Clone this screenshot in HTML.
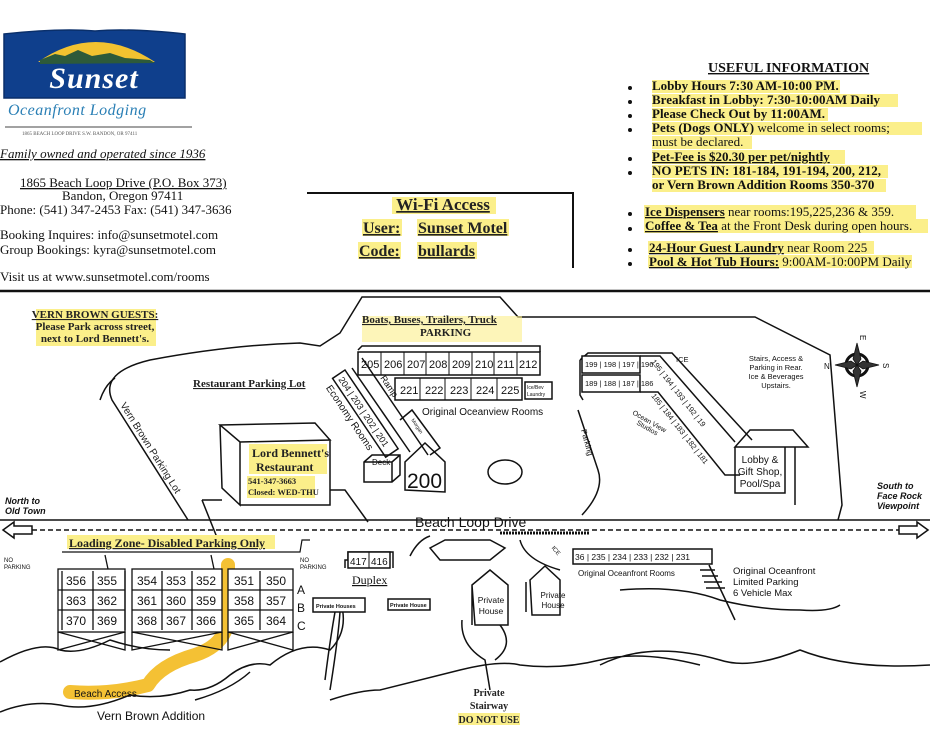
<!DOCTYPE html>
<html><head><meta charset="utf-8"><style>
html,body{margin:0;padding:0;background:#fff;width:930px;height:752px;overflow:hidden}
svg{display:block}
.s{font-family:"Liberation Serif",serif}
.a{font-family:"Liberation Sans",sans-serif}
.b{font-weight:bold}
</style></head><body>
<svg width="930" height="752" viewBox="0 0 930 752" xmlns="http://www.w3.org/2000/svg" fill="none" stroke="#111" stroke-width="1.5">
<!-- Logo -->
<path d="M4 34 Q60 28 95 31 Q130 28 185 34 L185 98 L4 98 Z" fill="#0f3f8c" stroke="#0a2f6a"/>
<path d="M38 62 Q95 22 155 62 Z" fill="#f2c230" stroke="none"/>
<path d="M40 60 L55 54 L65 56 L78 50 L92 56 L110 53 L125 58 L150 60 L155 63 L40 64Z" fill="#2d5a3a" stroke="none"/>
<text x="94" y="88" text-anchor="middle" class="s b" font-style="italic" font-size="30" fill="#fff" stroke="none" letter-spacing="1">Sunset</text>
<text x="8" y="115" class="s" font-style="italic" font-size="16" fill="#2a7fb5" stroke="none" letter-spacing="0.5">Oceanfront Lodging</text>
<line x1="5" y1="127" x2="192" y2="127" stroke="#444" stroke-width="1"/>
<text x="22" y="135" class="s" font-size="5" fill="#555" stroke="none">1865 BEACH LOOP DRIVE S.W.   BANDON, OR 97411</text>
<g class="s" font-size="13" fill="#111" stroke="none">
<text x="0" y="158" font-style="italic" text-decoration="underline">Family owned and operated since 1936</text>
<text x="20" y="187" text-decoration="underline">1865 Beach Loop Drive (P.O. Box 373)</text>
<text x="62" y="200">Bandon, Oregon 97411</text>
<text x="0" y="214">Phone:  (541) 347-2453   Fax:  (541) 347-3636</text>
<text x="0" y="239">Booking Inquires:  info@sunsetmotel.com</text>
<text x="0" y="254">Group Bookings:    kyra@sunsetmotel.com</text>
<text x="0" y="281">Visit us at www.sunsetmotel.com/rooms</text>
</g>
<!-- WiFi -->
<path d="M307 193 L573 193 L573 268" stroke-width="2"/>
<g fill="#fbef8a" stroke="none">
<rect x="392" y="197" width="104" height="17"/><rect x="362" y="219" width="40" height="17"/><rect x="417" y="219" width="92" height="17"/>
<rect x="358" y="242" width="43" height="17"/><rect x="417" y="242" width="60" height="17"/>
</g>
<g class="s b" fill="#222" stroke="none" font-size="16" text-decoration="underline">
<text x="443" y="210" text-anchor="middle" font-size="17">Wi-Fi Access</text>
<text x="363" y="233">User:</text><text x="418" y="233">Sunset Motel</text>
<text x="359" y="256">Code:</text><text x="418" y="256">bullards</text>
</g>
<!-- Useful info -->
<g fill="#fbef8a" stroke="none">
<rect x="652" y="80" width="188" height="13"/><rect x="652" y="94" width="246" height="13"/><rect x="652" y="108" width="176" height="13"/>
<rect x="652" y="122" width="270" height="13"/><rect x="652" y="136" width="100" height="13"/><rect x="652" y="150" width="193" height="14"/>
<rect x="652" y="165" width="236" height="13"/><rect x="652" y="179" width="234" height="13"/>
<rect x="644" y="205" width="272" height="14"/><rect x="644" y="219" width="284" height="14"/>
<rect x="648" y="241" width="226" height="13"/><rect x="648" y="255" width="264" height="13"/>
</g>
<g class="s" fill="#111" stroke="none" font-size="13">
<text x="708" y="72" class="b" font-size="14" text-decoration="underline">USEFUL INFORMATION</text>
<text x="652" y="90" class="b">Lobby Hours 7:30 AM-10:00 PM.</text>
<text x="652" y="104" class="b">Breakfast in Lobby: 7:30-10:00AM Daily</text>
<text x="652" y="118" class="b">Please Check Out by 11:00AM.</text>
<text x="652" y="132"><tspan class="b">Pets (Dogs ONLY)</tspan> welcome in select rooms;</text>
<text x="652" y="146">must be declared.</text>
<text x="652" y="161" class="b" text-decoration="underline">Pet-Fee is $20.30 per pet/nightly</text>
<text x="652" y="175" class="b">NO PETS IN: 181-184, 191-194, 200, 212,</text>
<text x="652" y="189" class="b">or Vern Brown Addition Rooms 350-370</text>
<text x="645" y="216"><tspan class="b" text-decoration="underline">Ice Dispensers</tspan> near rooms:195,225,236  &amp; 359.</text>
<text x="645" y="230"><tspan class="b" text-decoration="underline">Coffee &amp; Tea</tspan> at the Front Desk during open hours.</text>
<text x="649" y="252"><tspan class="b" text-decoration="underline">24-Hour Guest Laundry</tspan> near Room 225</text>
<text x="649" y="266"><tspan class="b" text-decoration="underline">Pool &amp; Hot Tub Hours:</tspan> 9:00AM-10:00PM Daily</text>
</g>
<g fill="#111" stroke="none">
<circle cx="630" cy="88" r="2"/><circle cx="630" cy="102" r="2"/><circle cx="630" cy="116" r="2"/><circle cx="630" cy="130" r="2"/>
<circle cx="630" cy="159" r="2"/><circle cx="630" cy="173" r="2"/><circle cx="630" cy="214" r="2"/><circle cx="630" cy="229" r="2"/>
<circle cx="630" cy="250" r="2"/><circle cx="630" cy="264" r="2"/>
</g>
<!-- map top border -->
<line x1="0" y1="291" x2="930" y2="291" stroke-width="2.5"/>
<!-- Vern brown guests -->
<rect x="36" y="309" width="120" height="37" fill="#fbef8a" stroke="none"/>
<g class="s b" fill="#222" stroke="none" font-size="11" text-anchor="middle">
<text x="95" y="318" text-decoration="underline">VERN BROWN GUESTS:</text>
<text x="95" y="330">Please Park across street,</text>
<text x="95" y="342">next to Lord Bennett's.</text>
</g>
<!-- parking outlines -->
<path d="M188 520 L112 400 Q100 372 150 360 Q230 345 300 343 L320 346 L340 333 L362 297 L500 297 L518 317 L755 317 L830 355 L842 505 L838 520"/>
<path d="M100 400 Q105 385 115 378"/>
<text x="193" y="387" class="s b" font-size="11" fill="#222" stroke="none" text-decoration="underline">Restaurant Parking Lot</text>
<text transform="translate(120,405) rotate(58)" class="a" font-size="10" fill="#222" stroke="none">Vern Brown Parking Lot</text>
<rect x="362" y="316" width="160" height="26" fill="#fbef8a" stroke="none" opacity="0.6"/>
<text x="362" y="323" class="s b" font-size="11" fill="#222" stroke="none" text-decoration="underline">Boats, Buses, Trailers, Truck</text>
<text x="420" y="336" class="s b" font-size="11" fill="#222" stroke="none">PARKING</text>
<!-- restaurant -->
<path d="M220 425 L315 423 L330 440 L240 442 Z M220 425 L222 488 L240 505 L240 442 M240 442 L330 440 L330 505 L240 505"/>
<path d="M202 500 L222 500 M202 500 L218 540 M330 490 L345 490 L368 522"/>
<rect x="249" y="444" width="78" height="30" fill="#fbef8a" stroke="none"/>
<rect x="247" y="476" width="68" height="22" fill="#fbef8a" stroke="none"/>
<g class="s b" fill="#222" stroke="none">
<text x="252" y="457" font-size="12">Lord Bennett's</text>
<text x="256" y="471" font-size="12">Restaurant</text>
<text x="248" y="484" font-size="8.5">541-347-3663</text>
<text x="248" y="495" font-size="8.5">Closed: WED-THU</text>
</g>
<!-- 200s building -->
<path d="M358 350 L362 346 L540 346 L540 352"/>
<rect x="358" y="352" width="182" height="23" fill="#fff"/>
<g stroke-width="1">
<line x1="381" y1="352" x2="381" y2="375"/><line x1="404" y1="352" x2="404" y2="375"/><line x1="426" y1="352" x2="426" y2="375"/><line x1="449" y1="352" x2="449" y2="375"/><line x1="472" y1="352" x2="472" y2="375"/><line x1="494" y1="352" x2="494" y2="375"/><line x1="517" y1="352" x2="517" y2="375"/>
</g>
<rect x="395" y="378" width="127" height="22" fill="#fff"/>
<g stroke-width="1"><line x1="420" y1="378" x2="420" y2="400"/><line x1="445" y1="378" x2="445" y2="400"/><line x1="471" y1="378" x2="471" y2="400"/><line x1="497" y1="378" x2="497" y2="400"/></g>
<rect x="525" y="382" width="27" height="17" fill="#fff"/>
<g class="a" font-size="11" fill="#111" stroke="none">
<text x="361" y="368">205</text><text x="384" y="368">206</text><text x="407" y="368">207</text><text x="429" y="368">208</text><text x="452" y="368">209</text><text x="475" y="368">210</text><text x="497" y="368">211</text><text x="519" y="368">212</text>
<text x="400" y="394">221</text><text x="425" y="394">222</text><text x="450" y="394">223</text><text x="476" y="394">224</text><text x="501" y="394">225</text>
<text x="527" y="389" font-size="5">Ice/Bev</text><text x="527" y="396" font-size="5">Laundry</text>
<text x="422" y="415" font-size="10">Original Oceanview Rooms</text>
</g>
<!-- economy diagonal -->
<g transform="translate(345,370) rotate(56)">
<rect x="0" y="0" width="95" height="15" fill="#fff"/>
<text x="4" y="11" class="a" font-size="9" fill="#111" stroke="none">204 | 203 | 202 | 201</text>
<text x="4" y="26" class="a" font-size="10" fill="#111" stroke="none">Economy Rooms</text>
</g>
<path d="M362 358 L428 455 M352 368 L410 452"/>
<text transform="translate(380,378) rotate(56)" class="a" font-size="9" fill="#111" stroke="none">Ramp</text>
<path d="M400 420 L412 410 L440 448 L430 455"/>
<text transform="translate(411,420) rotate(56)" class="a" font-size="5" fill="#111" stroke="none">Morgan</text>
<path d="M405 490 L405 462 L425 443 L445 462 L445 492 Z"/>
<text x="407" y="488" class="a" font-size="21" fill="#111" stroke="none">200</text>
<path d="M364 462 L372 455 L400 455 L400 475 L392 482 L364 482 Z M364 462 L392 462 L400 455 M392 462 L392 482"/>
<text x="372" y="465" class="a" font-size="8" fill="#111" stroke="none">Deck</text>
<ellipse cx="505" cy="472" rx="17" ry="12"/>
<path d="M578 410 L598 470 Q605 490 582 515"/>
<text transform="translate(581,430) rotate(75)" class="a" font-size="8" fill="#111" stroke="none">Parking</text>
<!-- 190s -->
<path d="M580 360 L580 395 L583 400 M580 360 L588 353 L648 353"/>
<rect x="582" y="356" width="58" height="17" fill="#fff"/>
<rect x="582" y="375" width="58" height="17" fill="#fff"/>
<g class="a" font-size="7.5" fill="#111" stroke="none">
<text x="585" y="367">199 | 198 | 197 | 196</text>
<text x="585" y="386">189 | 188 | 187 | 186</text>
<text x="676" y="362">ICE</text>
</g>
<path d="M648 353 L672 353 L752 440 M640 356 L660 356 L735 442 M640 392 L658 392 L725 475 L740 475"/>
<text transform="translate(651,362) rotate(52)" class="a" font-size="7.5" fill="#111" stroke="none">195 | 194 | 193 | 192 | 19</text>
<text transform="translate(651,396) rotate(52)" class="a" font-size="7.5" fill="#111" stroke="none">185 | 184 | 183 | 182 | 181</text>
<text transform="translate(632,414) rotate(30)" class="a" font-size="7" fill="#111" stroke="none">Ocean View</text>
<text transform="translate(636,424) rotate(30)" class="a" font-size="7" fill="#111" stroke="none">Studios</text>
<!-- lobby -->
<path d="M735 447 L750 430 L793 430 L808 447 Z M735 447 L735 493 L785 493 L785 447 M795 447 L795 505"/>
<g class="a" font-size="10" fill="#111" stroke="none" text-anchor="middle">
<text x="760" y="463">Lobby &amp;</text><text x="760" y="475">Gift Shop,</text><text x="760" y="487">Pool/Spa</text>
<text x="776" y="361" font-size="7.5">Stairs, Access &amp;</text><text x="776" y="370" font-size="7.5">Parking in Rear.</text>
<text x="776" y="379" font-size="7.5">Ice &amp; Beverages</text><text x="776" y="388" font-size="7.5">Upstairs.</text>
</g>
<!-- compass -->
<g transform="translate(857,365)">
<circle r="11" stroke-width="3"/>
<path d="M0 -22 L4 -6 L0 0 L-4 -6Z M0 22 L4 6 L0 0 L-4 6Z M-22 0 L-6 4 L0 0 L-6 -4Z M22 0 L6 4 L0 0 L6 -4Z" fill="#333" stroke-width="0.8"/>
<text x="-33" y="4" class="a" font-size="8" fill="#111" stroke="none">N</text>
<text transform="translate(26,-2) rotate(90)" class="a" font-size="8" fill="#111" stroke="none">S</text>
<text transform="translate(3,-30) rotate(90)" class="a" font-size="8" fill="#111" stroke="none">E</text>
<text transform="translate(3,26) rotate(90)" class="a" font-size="8" fill="#111" stroke="none">W</text>
</g>
<text x="877" y="489" class="a b" font-style="italic" font-size="9" fill="#111" stroke="none">South to</text>
<text x="877" y="499" class="a b" font-style="italic" font-size="9" fill="#111" stroke="none">Face Rock</text>
<text x="877" y="509" class="a b" font-style="italic" font-size="9" fill="#111" stroke="none">Viewpoint</text>
<text x="5" y="504" class="a b" font-style="italic" font-size="9" fill="#111" stroke="none">North to</text>
<text x="5" y="514" class="a b" font-style="italic" font-size="9" fill="#111" stroke="none">Old Town</text>
<!-- road -->
<line x1="0" y1="520" x2="930" y2="520" stroke-width="1.5"/>
<line x1="32" y1="530" x2="905" y2="530" stroke-dasharray="5,3" stroke-width="1.5"/>
<path d="M3 530 L14 522 L14 526 L32 526 L32 534 L14 534 L14 538 Z" fill="#fff"/>
<path d="M928 530 L917 522 L917 526 L899 526 L899 534 L917 534 L917 538 Z" fill="#fff"/>
<text x="415" y="527" class="a" font-size="14" fill="#111" stroke="none">Beach Loop Drive</text>
<path d="M500 533 L590 533" stroke-width="3" stroke-dasharray="2,1"/>
<!-- loading zone -->
<rect x="67" y="535" width="208" height="14" fill="#fbef8a" stroke="none"/>
<text x="69" y="547" class="s b" font-size="12" fill="#222" stroke="none" text-decoration="underline">Loading Zone- Disabled Parking Only</text>
<path d="M62 552 L300 552 L302 540 L310 540" stroke-width="1.2"/>
<text x="4" y="562" class="a" font-size="6" fill="#111" stroke="none">NO</text><text x="4" y="569" class="a" font-size="6" fill="#111" stroke="none">PARKING</text>
<text x="300" y="562" class="a" font-size="6" fill="#111" stroke="none">NO</text><text x="300" y="569" class="a" font-size="6" fill="#111" stroke="none">PARKING</text>
<!-- highlight beach access -->
<path d="M228 565 L228 620 Q225 645 195 655 Q160 665 148 685 Q110 695 70 692" stroke="#f2b610" stroke-width="14" stroke-linecap="round" stroke-linejoin="round" opacity="0.85"/>
<!-- 350 units -->
<g stroke-width="1.3">
<rect x="58" y="569" width="67" height="63" fill="#fff"/><rect x="132" y="569" width="90" height="63" fill="#fff"/><rect x="228" y="569" width="65" height="63" fill="#fff"/>
<path d="M62 571 L62 630 M125 571 L125 630 M58 590 L125 590 M58 610 L125 610 M93 571 L93 630"/>
<path d="M132 590 L222 590 M132 610 L222 610 M162 571 L162 630 M192 571 L192 630"/>
<path d="M228 590 L293 590 M228 610 L293 610 M260 571 L260 630"/>
<path d="M58 632 L58 650 L125 632 M125 632 L125 650 L58 632 M132 632 L132 650 L222 632 M222 632 L222 650 L132 632 M228 632 L228 650 L293 632 M293 632 L293 650 L228 632"/>
<path d="M105 555 L108 569 M211 555 L214 569"/>
</g>
<g class="a" font-size="12" fill="#111" stroke="none">
<text x="66" y="585">356</text><text x="97" y="585">355</text><text x="137" y="585">354</text><text x="166" y="585">353</text><text x="196" y="585">352</text><text x="234" y="585">351</text><text x="266" y="585">350</text>
<text x="66" y="605">363</text><text x="97" y="605">362</text><text x="137" y="605">361</text><text x="166" y="605">360</text><text x="196" y="605">359</text><text x="234" y="605">358</text><text x="266" y="605">357</text>
<text x="66" y="625">370</text><text x="97" y="625">369</text><text x="137" y="625">368</text><text x="166" y="625">367</text><text x="196" y="625">366</text><text x="234" y="625">365</text><text x="266" y="625">364</text>
<text x="297" y="594">A</text><text x="297" y="612">B</text><text x="297" y="630">C</text>
<text x="74" y="697" font-size="10">Beach Access</text>
<text x="97" y="720" font-size="12">Vern Brown Addition</text>
</g>
<!-- shoreline -->
<path d="M0 662 Q40 640 60 650 Q80 655 110 640 Q140 650 170 650 M0 712 Q30 700 60 705 Q90 712 130 695 Q160 700 190 690 Q210 692 230 675 Q250 660 270 665 Q300 640 330 650 Q350 630 340 600 M195 700 Q230 690 250 672 M330 700 Q360 690 380 690 Q420 680 460 670 Q500 660 520 665 Q560 670 600 660 Q640 650 700 665 M600 665 Q650 640 720 660 Q750 670 800 650 Q850 670 930 665" stroke-width="1.5"/>
<path d="M620 590 Q680 585 720 600 Q760 610 800 610 Q830 612 840 605"/>
<!-- duplex and houses -->
<path d="M345 568 L345 560 L348 560 L348 552 L393 552 L393 568"/>
<rect x="348" y="552" width="42" height="16" fill="#fff"/><line x1="369" y1="552" x2="369" y2="568" stroke-width="1"/>
<text x="350" y="565" class="a" font-size="10" fill="#111" stroke="none">417</text><text x="371" y="565" class="a" font-size="10" fill="#111" stroke="none">416</text>
<text x="352" y="584" class="s" font-size="12" fill="#111" stroke="none" text-decoration="underline">Duplex</text>
<rect x="313" y="598" width="52" height="14" fill="#fff"/><text x="316" y="608" class="a b" font-size="5.5" fill="#111" stroke="none">Private Houses</text>
<rect x="388" y="599" width="42" height="11" fill="#fff"/><text x="390" y="607" class="a b" font-size="5.5" fill="#111" stroke="none">Private House</text>
<path d="M335 612 Q330 640 325 680 M340 612 Q338 640 330 690"/>
<path d="M472 585 L490 570 L508 585 L508 625 L475 625 Z M472 585 L472 625"/>
<text x="491" y="603" class="a" font-size="8.5" fill="#111" stroke="none" text-anchor="middle">Private</text><text x="491" y="614" class="a" font-size="8.5" fill="#111" stroke="none" text-anchor="middle">House</text>
<path d="M530 580 L545 566 L560 580 L560 615 L532 615 Z M526 582 L526 612"/>
<text x="553" y="598" class="a" font-size="8" fill="#111" stroke="none" text-anchor="middle">Private</text><text x="553" y="608" class="a" font-size="8" fill="#111" stroke="none" text-anchor="middle">House</text>
<path d="M462 620 Q460 645 485 660 L490 690 M500 625 Q515 645 495 660"/>
<path d="M430 548 L445 540 L490 540 L505 548 L490 560 L440 560 Z" />
<path d="M410 556 Q418 540 430 536 M520 540 Q525 560 560 570"/>
<g class="s b" font-size="10" fill="#222" stroke="none" text-anchor="middle">
<text x="489" y="696">Private</text><text x="489" y="709">Stairway</text>
</g>
<rect x="458" y="713" width="62" height="12" fill="#fbef8a" stroke="none"/>
<text x="489" y="723" class="s b" font-size="10" fill="#222" stroke="none" text-anchor="middle">DO NOT USE</text>
<!-- 230s -->
<rect x="573" y="549" width="139" height="15" fill="#fff"/>
<text x="575" y="560" class="a" font-size="8.5" fill="#111" stroke="none">36 | 235 | 234 | 233 | 232 | 231</text>
<text x="556" y="552" transform="rotate(50 558 545)" class="a" font-size="6" fill="#111" stroke="none">ICE</text>
<text x="578" y="576" class="a" font-size="8" fill="#111" stroke="none">Original Oceanfront Rooms</text>
<path d="M700 570 L715 570 M702 576 L718 576 M704 582 L722 582 M706 588 L725 588 M709 565 L735 620"/>
<g class="a" font-size="9.5" fill="#111" stroke="none">
<text x="733" y="574">Original Oceanfront</text><text x="733" y="585">Limited Parking</text><text x="733" y="596">6 Vehicle Max</text>
</g>
</svg>
</body></html>
